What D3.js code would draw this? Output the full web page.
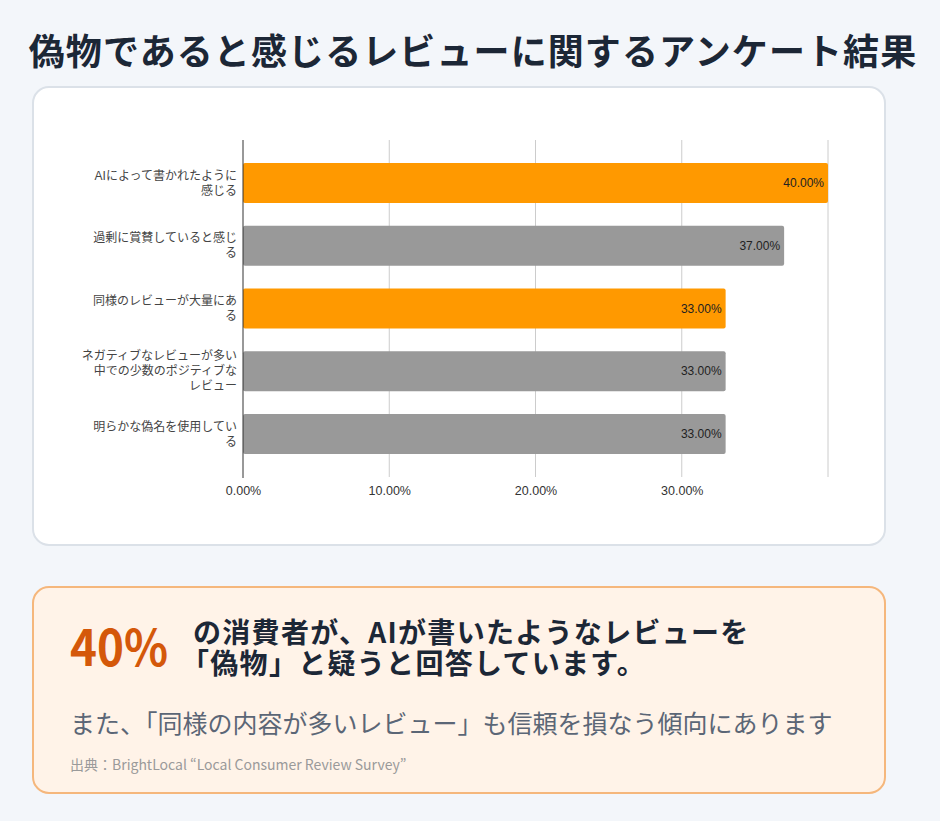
<!DOCTYPE html>
<html lang="ja">
<head>
<meta charset="utf-8">
<title>偽物であると感じるレビューに関するアンケート結果</title>
<script src="https://cdn.jsdelivr.net/npm/d3@7"></script>
<style>
  html, body { margin: 0; padding: 0; background: #f3f6fa; }
  svg { display: block; }
  .title { font-family: "Noto Sans CJK JP", sans-serif; font-weight: 700; font-size: 36px; letter-spacing: 1.1px; fill: #1c2736; text-anchor: middle; }
  .cat { font-family: "Liberation Sans", "Noto Sans CJK JP", sans-serif; font-size: 12px; fill: #444; text-anchor: end; }
  .val { font-family: "Liberation Sans", "Noto Sans CJK JP", sans-serif; font-size: 12px; fill: #222; text-anchor: end; }
  .tick text { font-family: "Liberation Sans", sans-serif; font-size: 12.5px; fill: #333; }
  .big { font-family: "Noto Sans CJK JP", sans-serif; font-weight: 700; font-size: 50px; fill: #d4580a; }
  .lead { font-family: "Noto Sans CJK JP", sans-serif; font-weight: 700; font-size: 28px; letter-spacing: 1.3px; fill: #1c2736; }
  .sub { font-family: "Noto Sans CJK JP", sans-serif; font-size: 25px; fill: #5b6676; }
  .src { font-family: "Noto Sans CJK JP", sans-serif; font-size: 14px; fill: #9a9a9a; }
</style>
</head>
<body>
<script>
// data
var categories = [
  "AIによって書かれたように\n感じる",
  "過剰に賞賛していると感じ\nる",
  "同様のレビューが大量にあ\nる",
  "ネガティブなレビューが多い\n中での少数のポジティブな\nレビュー",
  "明らかな偽名を使用してい\nる"
];
var values = [40, 37, 33, 33, 33];
var highlight = [true, false, true, false, false];
var tickValues = [0, 10, 20, 30, 40];
var tickLabels = ["0.00%", "10.00%", "20.00%", "30.00%", ""];

var W = 940, H = 821;

var svg = d3.select("body").append("svg")
  .attr("width", W)
  .attr("height", H);

svg.append("text")
  .attr("class", "title")
  .attr("x", 473)
  .attr("y", 65)
  .text("偽物であると感じるレビューに関するアンケート結果");

// chart card
svg.append("rect")
  .attr("x", 33).attr("y", 87)
  .attr("width", 852).attr("height", 458)
  .attr("rx", 16)
  .attr("fill", "#fff")
  .attr("stroke", "#dbe1e8")
  .attr("stroke-width", 2);

var x = d3.scaleLinear().domain([0, 40]).range([243, 828]);
var y = d3.scaleBand()
  .domain(d3.range(categories.length))
  .range([140, 477])
  .paddingInner(0.363)
  .paddingOuter(0.367);

var chart = svg.append("g");

// gridlines
chart.selectAll(".grid")
  .data(tickValues.slice(1))
  .enter()
  .append("line")
  .attr("class", "grid")
  .attr("x1", function(d) { return x(d); })
  .attr("x2", function(d) { return x(d); })
  .attr("y1", 140)
  .attr("y2", 477)
  .attr("stroke", "#cccccc")
  .attr("stroke-width", 1);

// bars
chart.selectAll(".bar")
  .data(values)
  .enter()
  .append("rect")
  .attr("class", "bar")
  .attr("x", x(0))
  .attr("y", function(d, i) { return y(i); })
  .attr("width", function(d) { return x(d) - x(0); })
  .attr("height", y.bandwidth())
  .attr("rx", 2)
  .attr("fill", function(d, i) { return highlight[i] ? "#ff9900" : "#999999"; });

// value labels
chart.selectAll(".val")
  .data(values)
  .enter()
  .append("text")
  .attr("class", "val")
  .attr("x", function(d) { return x(d) - 4; })
  .attr("y", function(d, i) { return y(i) + y.bandwidth() / 2; })
  .attr("dy", "0.35em")
  .text(function(d) { return d.toFixed(2) + "%"; });

// category labels
chart.selectAll(".cat")
  .data(categories)
  .enter()
  .append("text")
  .attr("class", "cat")
  .each(function(d, i) {
    var lines = d.split("\n");
    var lh = 15;
    var cy = y(i) + y.bandwidth() / 2 - (lines.length - 1) * lh / 2;
    var t = d3.select(this);
    lines.forEach(function(l, j) {
      t.append("tspan")
        .attr("x", 237)
        .attr("y", cy + j * lh)
        .attr("dy", "0.35em")
        .text(l);
    });
  });

// x axis
var xAxis = d3.axisBottom(x)
  .tickValues(tickValues)
  .tickSize(0)
  .tickPadding(9)
  .tickFormat(function(d, i) { return tickLabels[i]; });

var ax = chart.append("g")
  .attr("transform", "translate(0,477)")
  .call(xAxis);
ax.select(".domain").remove();

// baseline
chart.append("line")
  .attr("x1", x(0)).attr("x2", x(0))
  .attr("y1", 140).attr("y2", 478)
  .attr("stroke", "#333")
  .attr("stroke-width", 1);

// summary card
svg.append("rect")
  .attr("x", 33).attr("y", 587)
  .attr("width", 852).attr("height", 206)
  .attr("rx", 16)
  .attr("fill", "#fff3e8")
  .attr("stroke", "#f5b77c")
  .attr("stroke-width", 2);

svg.append("text")
  .attr("class", "big")
  .attr("x", 70)
  .attr("y", 666)
  .attr("textLength", 98)
  .attr("lengthAdjust", "spacingAndGlyphs")
  .text("40%");

var lead = svg.append("text")
  .attr("class", "lead");
lead.append("tspan")
  .attr("x", 193)
  .attr("y", 643)
  .text("の消費者が、AIが書いたようなレビューを");
lead.append("tspan")
  .attr("x", 181)
  .attr("y", 674)
  .text("「偽物」と疑うと回答しています。");

svg.append("text")
  .attr("class", "sub")
  .attr("x", 70)
  .attr("y", 733)
  .text("また、「同様の内容が多いレビュー」も信頼を損なう傾向にあります");

svg.append("text")
  .attr("class", "src")
  .attr("x", 70)
  .attr("y", 770)
  .text("出典：BrightLocal “Local Consumer Review Survey”");
</script>
</body>
</html>
